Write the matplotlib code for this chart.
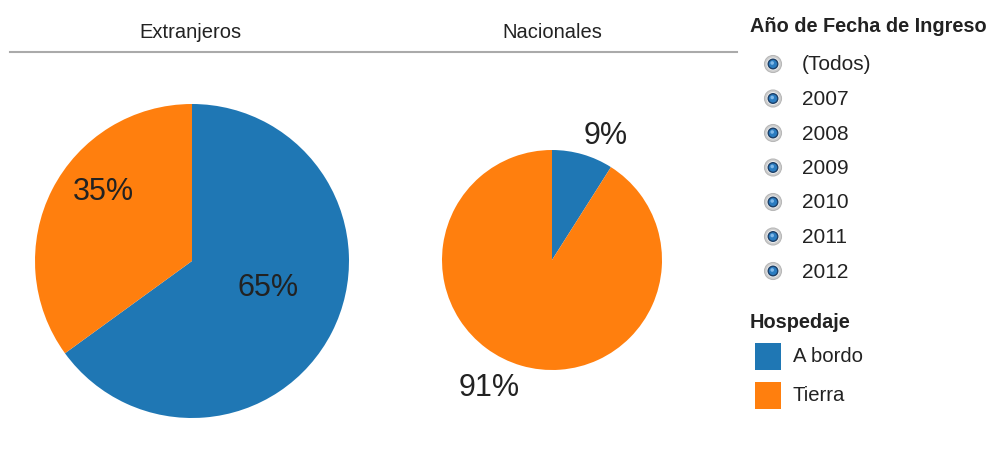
import matplotlib
matplotlib.use("Agg")
import numpy as np
import matplotlib.pyplot as plt
from matplotlib.patches import Circle, Rectangle

plt.rcParams['font.family'] = ['Liberation Sans', 'DejaVu Sans']

panels = ["Extranjeros", "Nacionales"]
series = ["A bordo", "Tierra"]
extranjeros = [65, 35]
nacionales = [9, 91]
years = ["(Todos)", "2007", "2008", "2009", "2010", "2011", "2012"]
colors = ["#1f77b4", "#ff7f0e"]

W, H = 996, 464
fig = plt.figure(figsize=(W / 100, H / 100), dpi=100)
ax = fig.add_axes([0, 0, 1, 1])
ax.set_xlim(0, W)
ax.set_ylim(0, H)
ax.set_aspect('equal')
ax.axis('off')

def Y(y):
    return H - y

TXT = '#222222'

# titles and header line
ax.text(190, Y(33), panels[0], ha='center', va='center', fontsize=14.5, color=TXT)
ax.text(552, Y(33), panels[1], ha='center', va='center', fontsize=14.5, color=TXT)
ax.plot([10, 737], [Y(53), Y(53)], color='#aaaaaa', lw=1.5)

def place_labels(wedges, texts, center, radius, dists, shifts):
    for w, t, d, s in zip(wedges, texts, dists, shifts):
        mid = np.deg2rad((w.theta1 + w.theta2) / 2 + s)
        t.set_position((center[0] + d * radius * np.cos(mid),
                        center[1] + d * radius * np.sin(mid)))

# pies
c1, r1 = (192, Y(262)), 157
w1, t1, a1 = ax.pie(extranjeros, colors=colors, startangle=90, counterclock=False,
                    center=c1, radius=r1, autopct='%d%%',
                    textprops=dict(fontsize=22, color=TXT),
                    wedgeprops=dict(linewidth=0))
place_labels(w1, a1, c1, r1, [0.51, 0.72], [8, -11])

c2, r2 = (552, Y(261)), 110
w2, t2, a2 = ax.pie(nacionales, colors=colors, startangle=90, counterclock=False,
                    center=c2, radius=r2, autopct='%d%%',
                    textprops=dict(fontsize=22, color=TXT),
                    wedgeprops=dict(linewidth=0))
place_labels(w2, a2, c2, r2, [1.24, 1.29], [-7, -10])
ax.set_xlim(0, W)
ax.set_ylim(0, H)

# year filter legend
ax.text(750, Y(27), "Año de Fecha de Ingreso", ha='left', va='center',
        fontsize=14.3, fontweight='bold', color=TXT)
y0, dy = 65, 34.5
for i, yr in enumerate(years):
    yy = Y(y0 + i * dy)
    ax.add_patch(Circle((773, yy), 8.5, facecolor='#cfcfcf', edgecolor='#b8b8b8', lw=0.8))
    ax.add_patch(Circle((773, yy), 6.3, facecolor='#f4f4f4', edgecolor='none'))
    ax.add_patch(Circle((773, yy), 4.8, facecolor='#2b7cc0', edgecolor='#1d3f66', lw=1.0))
    ax.add_patch(Circle((772.2, yy + 1.0), 1.8, facecolor='#7fb8e8', edgecolor='none'))
    ax.text(802, yy, yr, ha='left', va='center', fontsize=15, color=TXT)

# series legend
ax.text(750, Y(323), "Hospedaje", ha='left', va='center',
        fontsize=14.3, fontweight='bold', color=TXT)
for i, (s, c) in enumerate(zip(series, colors)):
    yc = 357 + i * 39
    ax.add_patch(Rectangle((755, Y(yc) - 13.5), 26, 27, facecolor=c, edgecolor='none'))
    ax.text(793, Y(yc), s, ha='left', va='center', fontsize=14.6, color=TXT)

fig.savefig("out.png", dpi=100)
